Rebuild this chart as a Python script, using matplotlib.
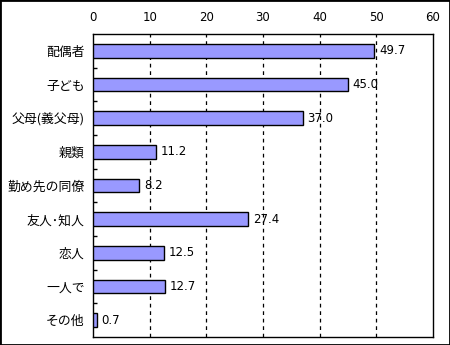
import numpy as np
import matplotlib.pyplot as plt
from matplotlib.patches import Rectangle

plt.rcParams['font.family'] = ['Noto Sans CJK JP', 'DejaVu Sans']

categories = ['配偶者', '子ども', '父母(義父母)', '親類', '勤め先の同僚',
              '友人･知人', '恋人', '一人で', 'その他']
values = [49.7, 45.0, 37.0, 11.2, 8.2, 27.4, 12.5, 12.7, 0.7]
xticks = [0, 10, 20, 30, 40, 50, 60]

fig = plt.figure(figsize=(4.5, 3.45), dpi=100)
ax = fig.add_axes([0.2067, 0.0232, 0.755, 0.878])

y = np.arange(len(categories))
ax.barh(y, values, height=0.4, color='#9999FF', edgecolor='black',
        linewidth=1.0, zorder=3)
for yi, v in zip(y, values):
    ax.text(v + 0.8, yi, f'{v:.1f}', va='center', ha='left',
            fontsize=8.5, family='DejaVu Sans', zorder=4)

ax.set_xlim(0, 60)
ax.set_ylim(len(categories) - 0.5, -0.5)
ax.set_xticks(xticks)
ax.xaxis.tick_top()
ax.tick_params(axis='x', length=0, pad=7, labelsize=8.5)
for lbl in ax.get_xticklabels():
    lbl.set_family('DejaVu Sans')

ax.set_yticks(y)
ax.set_yticklabels(categories, fontsize=9.25)
ax.set_yticks(np.arange(0.5, len(categories) - 1, 1.0), minor=True)
ax.tick_params(axis='y', which='major', length=0, pad=6)
ax.tick_params(axis='y', which='minor', direction='in', length=3,
               width=1, color='black')

for gx in xticks[1:-1]:
    ax.axvline(gx, color='black', linestyle=(0, (3, 3)), linewidth=0.9,
               zorder=1)

for s in ax.spines.values():
    s.set_linewidth(1.0)
    s.set_color('black')

fig.patches.append(Rectangle((0, 0), 1, 1, transform=fig.transFigure,
                             fill=False, edgecolor='black', linewidth=2))

fig.savefig('out.png', dpi=100)
